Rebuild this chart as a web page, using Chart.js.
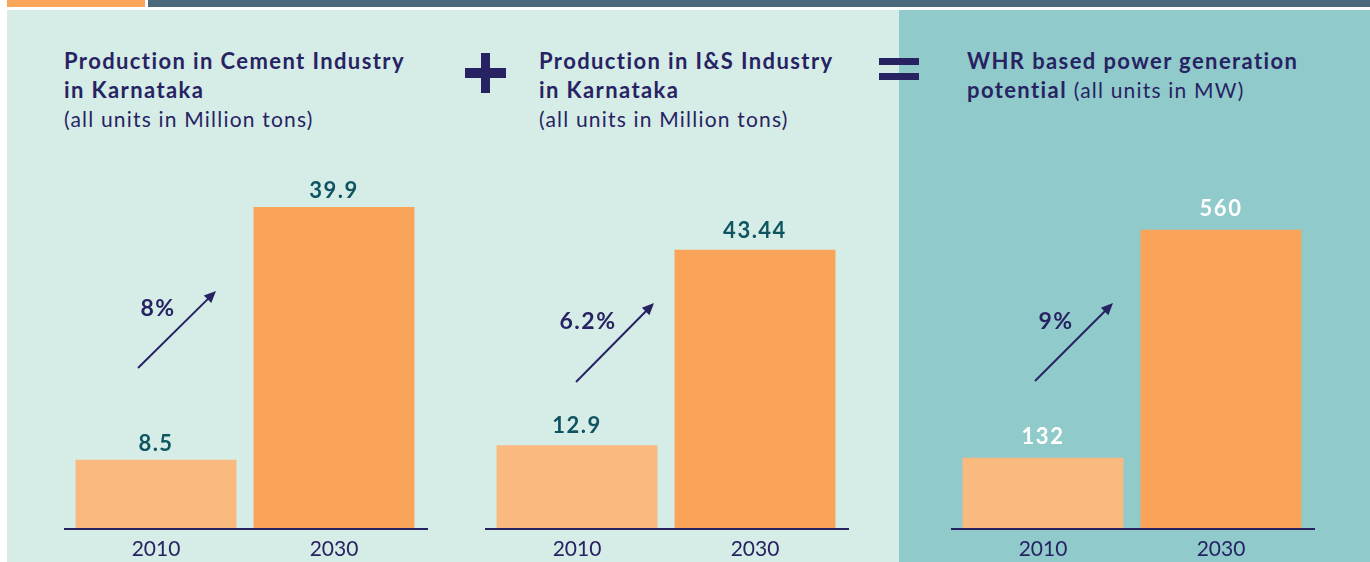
<!DOCTYPE html>
<html lang="en">
<head>
  <meta charset="UTF-8">
  <title>WHR potential - Karnataka</title>
  <script src="https://cdn.jsdelivr.net/npm/chart.js"></script>
  <style>
    html, body { margin: 0; padding: 0; background: #ffffff; }
    body { width: 1370px; height: 562px; position: relative; overflow: hidden; font-family: Lato, "Open Sans", sans-serif; color: #272363; }
    .topOrange { position: absolute; left: 7px; top: 0; width: 138px; height: 7px; background: #f9a65a; }
    .topSlate { position: absolute; left: 148px; top: 0; width: 1222px; height: 7px; background: #4a6a7c; }
    .mint { position: absolute; left: 7px; top: 10px; width: 892px; height: 552px; background: #d6ece7; }
    .teal { position: absolute; left: 899px; top: 10px; width: 471px; height: 552px; background: #90cacb; }
    .title { position: absolute; top: 46px; font-weight: 700; font-size: 22px; line-height: 29px; letter-spacing: 1.4px; white-space: nowrap; }
    .sub { font-weight: 400; font-size: 21px; letter-spacing: 1.2px; }
    .sub.block { display: block; line-height: 27px; margin-top: 1px; }
    .sign { position: absolute; background: #272363; }
    canvas { position: absolute; }
  </style>
</head>
<body>
  <div class="topOrange"></div>
  <div class="topSlate"></div>
  <div class="mint"></div>
  <div class="teal"></div>

  <!-- Títulos -->
  <div class="title" style="left:64px;">Production in Cement Industry<br>in Karnataka<span class="sub block">(all units in Million tons)</span></div>
  <div class="title" style="left:539px;">Production in I&amp;S Industry<br>in Karnataka<span class="sub block">(all units in Million tons)</span></div>
  <div class="title" style="left:967px;">WHR based power generation<br>potential <span class="sub">(all units in MW)</span></div>

  <!-- + e = -->
  <div class="sign" style="left:465px; top:68px; width:41px; height:10px;"></div>
  <div class="sign" style="left:481px; top:53px; width:9px; height:40px;"></div>
  <div class="sign" style="left:879px; top:58px; width:40px; height:7px;"></div>
  <div class="sign" style="left:879px; top:73px; width:40px; height:7px;"></div>

  <canvas id="cementChart" width="364" height="412" style="left:64px; top:150px;"></canvas>
  <canvas id="steelChart" width="364" height="412" style="left:485px; top:150px;"></canvas>
  <canvas id="whrChart" width="364" height="412" style="left:951px; top:150px;"></canvas>

  <script>
    // dados
    const years = ['2010', '2030'];
    const cementValues = [8.5, 39.9];
    const steelValues = [12.9, 43.44];
    const whrValues = [132, 560];
    const growthLabels = ['8%', '6.2%', '9%'];

    const navy = '#272363';
    const lightOrange = '#fab97f';
    const darkOrange = '#f9a458';
    const fontFamily = 'Lato, "Open Sans", sans-serif';

    // linha de base que passa um pouco além da área do gráfico
    const baseLine = {
      id: 'baseLine',
      afterDatasetsDraw(chart) {
        const ctx = chart.ctx;
        const y = chart.chartArea.bottom + 1;
        ctx.save();
        ctx.strokeStyle = navy;
        ctx.lineWidth = 2;
        ctx.beginPath();
        ctx.moveTo(0, y);
        ctx.lineTo(chart.width, y);
        ctx.stroke();
        ctx.restore();
      }
    };

    // rótulos de valor acima das barras
    const valueLabels = {
      id: 'valueLabels',
      afterDatasetsDraw(chart, args, opts) {
        const ctx = chart.ctx;
        const meta = chart.getDatasetMeta(0);
        const values = chart.data.datasets[0].data;
        ctx.save();
        ctx.font = 'bold 22px ' + fontFamily;
        ctx.letterSpacing = '1.5px';
        ctx.fillStyle = opts.color;
        ctx.textAlign = 'center';
        ctx.textBaseline = 'alphabetic';
        meta.data.forEach((bar, i) => {
          ctx.fillText(String(values[i]), bar.x, bar.y - opts.gap);
        });
        ctx.restore();
      }
    };

    // seta de crescimento com a taxa
    const growthArrow = {
      id: 'growthArrow',
      afterDraw(chart, args, opts) {
        if (!opts.label) return;
        const ctx = chart.ctx;
        const [x0, y0] = opts.from;
        const [x1, y1] = opts.to;
        const ang = Math.atan2(y1 - y0, x1 - x0);
        const head = 13;
        ctx.save();
        ctx.strokeStyle = navy;
        ctx.fillStyle = navy;
        ctx.lineWidth = 2;
        ctx.beginPath();
        ctx.moveTo(x0, y0);
        ctx.lineTo(x1 - Math.cos(ang) * head * 0.7, y1 - Math.sin(ang) * head * 0.7);
        ctx.stroke();
        ctx.beginPath();
        ctx.moveTo(x1, y1);
        ctx.lineTo(x1 - head * Math.cos(ang - 0.42), y1 - head * Math.sin(ang - 0.42));
        ctx.lineTo(x1 - head * Math.cos(ang + 0.42), y1 - head * Math.sin(ang + 0.42));
        ctx.closePath();
        ctx.fill();
        ctx.font = 'bold 23px ' + fontFamily;
        ctx.letterSpacing = '1.5px';
        ctx.textAlign = 'center';
        ctx.textBaseline = 'middle';
        ctx.fillText(opts.label, opts.labelAt[0], opts.labelAt[1]);
        ctx.restore();
      }
    };

    const criarGrafico = (id, values, yMax, labelColor, gap, arrow) => {
      return new Chart(document.getElementById(id), {
        type: 'bar',
        data: {
          labels: years,
          datasets: [{
            data: values,
            backgroundColor: [lightOrange, darkOrange],
            barPercentage: 0.904,
            categoryPercentage: 1
          }]
        },
        options: {
          responsive: false,
          animation: false,
          layout: { padding: { left: 3, right: 5, top: 0, bottom: 0 } },
          plugins: {
            legend: { display: false },
            tooltip: { enabled: false },
            valueLabels: { color: labelColor, gap: gap },
            growthArrow: arrow
          },
          scales: {
            x: {
              grid: { display: false, drawTicks: false },
              border: { display: false },
              ticks: { color: navy, padding: 9, font: { family: fontFamily, size: 21 } },
              afterFit: (scale) => { scale.height = 34; }
            },
            y: { display: false, min: 0, max: yMax }
          }
        },
        plugins: [baseLine, valueLabels, growthArrow]
      });
    };

    criarGrafico('cementChart', cementValues, 47, '#0e5461', 9,
      { label: growthLabels[0], from: [74, 218], to: [152, 141], labelAt: [94, 159] });
    criarGrafico('steelChart', steelValues, 59, '#0e5461', 12,
      { label: growthLabels[1], from: [91, 232], to: [169, 153], labelAt: [103, 172] });
    criarGrafico('whrChart', whrValues, 710, '#ffffff', 14,
      { label: growthLabels[2], from: [84, 231], to: [162, 153], labelAt: [105, 172] });
  </script>
</body>
</html>
